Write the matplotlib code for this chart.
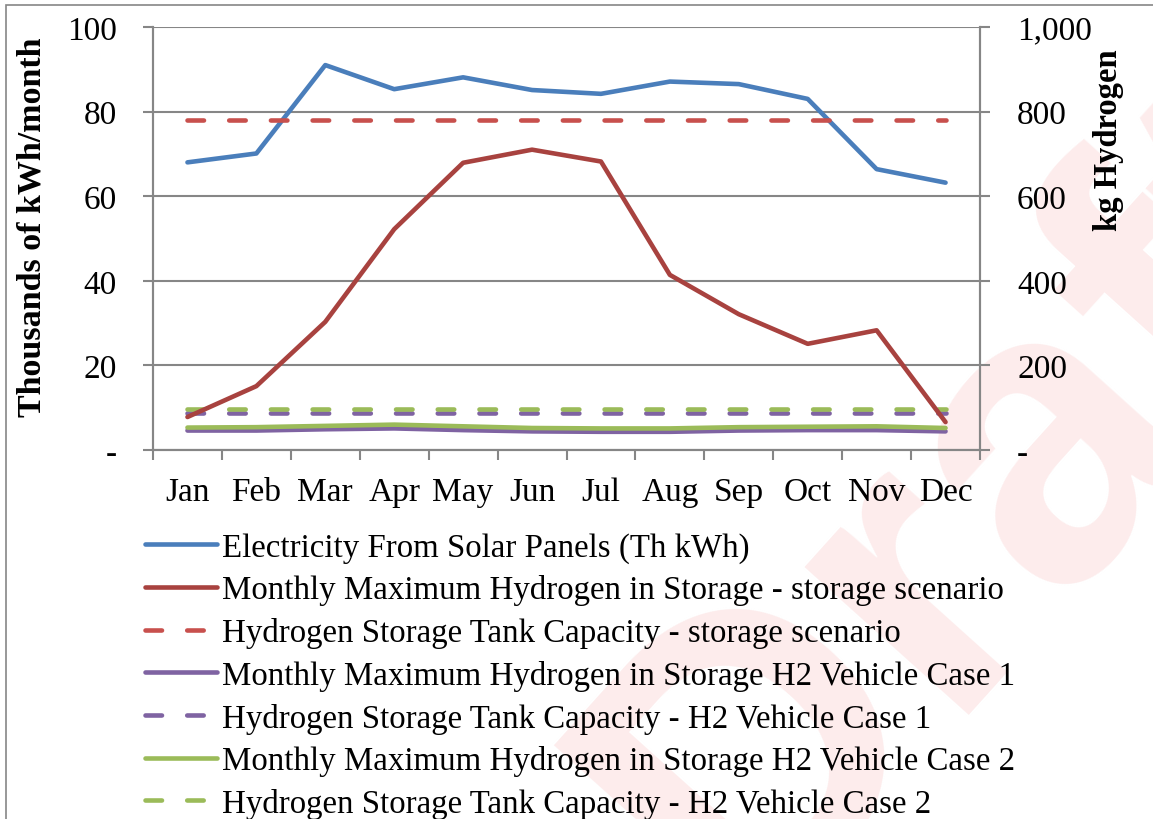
import matplotlib
matplotlib.use("Agg")
import matplotlib.pyplot as plt
from matplotlib.patches import Rectangle
from matplotlib.ticker import FuncFormatter, NullFormatter
import numpy as np

months = ["Jan", "Feb", "Mar", "Apr", "May", "Jun",
          "Jul", "Aug", "Sep", "Oct", "Nov", "Dec"]

# left axis: thousands of kWh per month
solar_kwh = [68.0, 70.1, 91.0, 85.3, 88.1, 85.1, 84.2, 87.1, 86.5, 83.0, 66.4, 63.2]

# right axis: kg hydrogen
h2_storage = [78, 151, 303, 522, 679, 710, 682, 414, 321, 251, 283, 66]
tank_storage = [780] * 12
h2_case1 = [46, 46, 49, 51, 47, 44, 43, 43, 46, 47, 47, 44]
tank_case1 = [87] * 12
h2_case2 = [53, 54, 57, 60, 56, 52, 51, 51, 54, 55, 56, 52]
tank_case2 = [96] * 12

labels = [
    "Electricity From Solar Panels (Th kWh)",
    "Monthly Maximum Hydrogen in Storage - storage scenario",
    "Hydrogen Storage Tank Capacity - storage scenario",
    "Monthly Maximum Hydrogen in Storage H2 Vehicle Case 1",
    "Hydrogen Storage Tank Capacity - H2 Vehicle Case 1",
    "Monthly Maximum Hydrogen in Storage H2 Vehicle Case 2",
    "Hydrogen Storage Tank Capacity - H2 Vehicle Case 2",
]

plt.rcParams["font.family"] = ["Liberation Serif", "DejaVu Serif"]
FS = 24
GRID = "#868686"

W, H = 1153, 820
fig = plt.figure(figsize=(W / 100, H / 100), dpi=100)

# watermark behind everything
fig.text(985 / W, 1 - 505 / H, "Draft", rotation=48, fontsize=300, color="#fdecec",
         family="Liberation Sans", weight="bold", ha="center", va="center",
         zorder=-1)

# chart area border
fig.patches.append(Rectangle((5.5 / W, -0.2), 1.5, 1.2 - 5.5 / H,
                             transform=fig.transFigure, fill=False,
                             edgecolor=GRID, lw=1.2, zorder=1))

ax = fig.add_axes([153 / W, 1 - 451 / H, (980 - 153) / W, (451 - 28) / H])
ax2 = ax.twinx()
ax.patch.set_alpha(0)
ax2.patch.set_alpha(0)

x = np.arange(len(months))
lw = 3.3
dash = (3.6, 5.5)

ln_solar, = ax.plot(x, solar_kwh, color="#4A7EBB", lw=lw, solid_capstyle="round",
                    solid_joinstyle="round", zorder=5)
ln_h2, = ax2.plot(x, h2_storage, color="#A8423F", lw=lw, solid_capstyle="round",
                  solid_joinstyle="round", zorder=5)
ln_tank, = ax2.plot(x, tank_storage, color="#C8504D", lw=lw, dashes=dash,
                    dash_capstyle="round")
ln_c1, = ax2.plot(x, h2_case1, color="#7F63A2", lw=lw, solid_capstyle="round")
ln_t1, = ax2.plot(x, tank_case1, color="#7F63A2", lw=lw, dashes=dash,
                  dash_capstyle="round")
ln_c2, = ax2.plot(x, h2_case2, color="#9BBB59", lw=lw, solid_capstyle="round")
ln_t2, = ax2.plot(x, tank_case2, color="#9BBB59", lw=lw, dashes=dash,
                  dash_capstyle="round")

ax.set_xlim(-0.5, 11.5)
ax.set_ylim(0, 100)
ax2.set_ylim(0, 1000)
ax.set_yticks(np.arange(0, 101, 20))
ax2.set_yticks(np.arange(0, 1001, 200))
ax.grid(axis="y", color=GRID, lw=1.5)
ax.set_axisbelow(True)

ax.yaxis.set_major_formatter(FuncFormatter(lambda v, p: "-" if v == 0 else f"{v:,.0f}"))
ax2.yaxis.set_major_formatter(FuncFormatter(lambda v, p: "-" if v == 0 else f"{v:,.0f}"))

# month labels centred, ticks on the category boundaries
ax.set_xticks(np.arange(-0.5, 12, 1))
ax.xaxis.set_major_formatter(NullFormatter())
ax.set_xticks(x, minor=True)
ax.set_xticklabels(months, minor=True)
ax.tick_params(axis="x", which="major", length=7.2, width=1.5, color=GRID)
ax.tick_params(axis="x", which="minor", length=0, pad=19, labelsize=FS)
ax.tick_params(axis="y", length=7.2, width=1.5, color=GRID, pad=18.7, labelsize=FS)
ax2.tick_params(axis="y", length=7.2, width=1.5, color=GRID, pad=19.5, labelsize=FS)

for a in (ax, ax2):
    a.spines["top"].set_visible(False)
    for s in ("left", "right", "bottom"):
        a.spines[s].set_color(GRID)
        a.spines[s].set_linewidth(1.5)

fig.text(32 / W, 1 - 227 / H, "Thousands of kWh/month", rotation=90,
         fontsize=24.5, weight="bold", ha="center", va="center")
fig.text(1108 / W, 1 - 49 / H, "kg Hydrogen", rotation=90,
         fontsize=23.5, weight="bold", ha="center", va="top")

handles = [ln_solar, ln_h2, ln_tank, ln_c1, ln_t1, ln_c2, ln_t2]
fig.legend(handles, labels, loc="upper left", bbox_to_anchor=(145 / W, 1 - 533 / H),
           frameon=False, fontsize=23.7, handlelength=2.19, handletextpad=0.15,
           labelspacing=0.355, borderpad=0, borderaxespad=0)

fig.savefig("out.png", dpi=100)
